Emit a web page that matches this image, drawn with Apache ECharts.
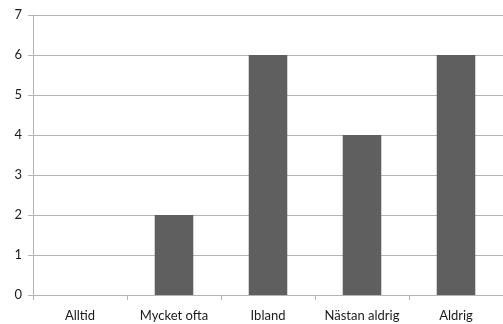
<!DOCTYPE html>
<html>
<head>
<meta charset="utf-8">
<script src="https://cdn.jsdelivr.net/npm/echarts@6/dist/echarts.min.js"></script>
<style>
  html, body { margin: 0; padding: 0; background: #fff; }
  #chart { width: 503px; height: 324px; }
</style>
</head>
<body>
<div id="chart"></div>
<script>
// Answer categories and how many responses each got
const categories = ['Alltid', 'Mycket ofta', 'Ibland', 'Nästan aldrig', 'Aldrig'];
const counts = [0, 2, 6, 4, 6];
const yTicks = [0, 1, 2, 3, 4, 5, 6, 7];

const chart = echarts.init(document.getElementById('chart'), null, { renderer: 'canvas' });
const font = 'Lato, "Open Sans", sans-serif';

chart.setOption({
  animation: false,
  grid: { left: 33, right: -3, top: 15, bottom: 29, containLabel: false },
  xAxis: {
    type: 'category',
    data: categories,
    axisLine: { show: true, lineStyle: { color: '#b4b4b4', width: 1 } },
    axisTick: { show: true, alignWithLabel: false, length: 5, lineStyle: { color: '#b4b4b4' } },
    axisLabel: { color: '#1a1a1a', fontFamily: font, fontSize: 13, margin: 14, interval: 0, hideOverlap: false },
    splitLine: { show: false }
  },
  yAxis: {
    type: 'value',
    min: yTicks[0],
    max: yTicks[yTicks.length - 1],
    interval: 1,
    axisLine: { show: true, lineStyle: { color: '#b4b4b4', width: 1 } },
    axisTick: { show: true, length: 5, lineStyle: { color: '#b4b4b4' } },
    axisLabel: { color: '#1a1a1a', fontFamily: font, fontSize: 13, margin: 11 },
    splitLine: { show: true, lineStyle: { color: '#b4b4b4', width: 1 } }
  },
  series: [{
    type: 'bar',
    data: counts,
    barWidth: '41%',
    itemStyle: { color: '#5f5f5f' },
    emphasis: { disabled: true }
  }]
});
</script>
</body>
</html>
